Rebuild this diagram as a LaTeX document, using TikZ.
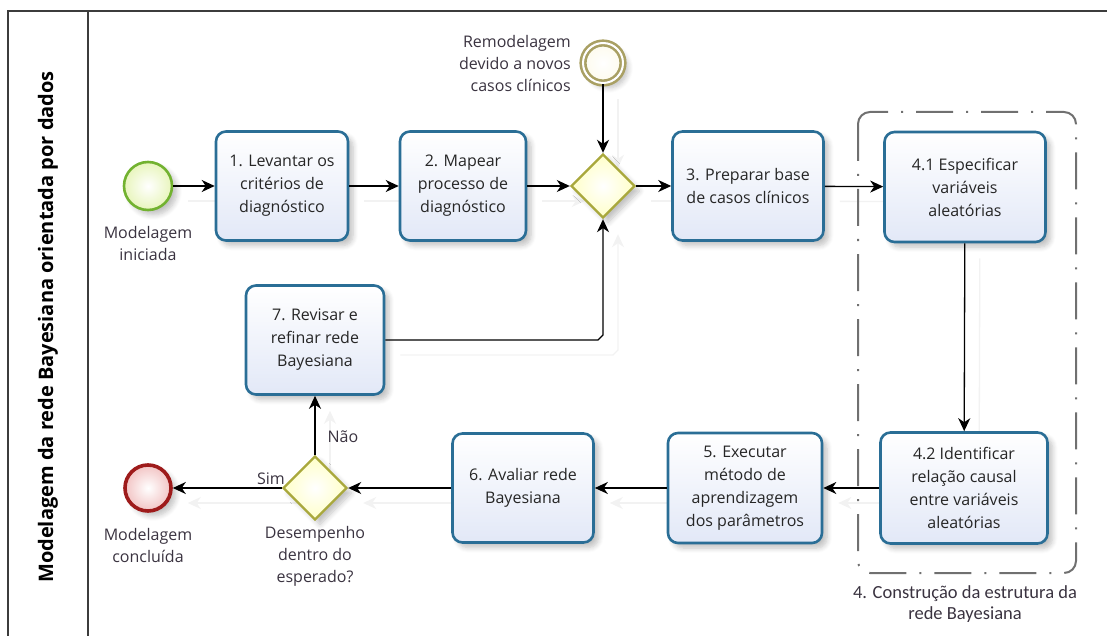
\documentclass[tikz,border=0pt]{standalone}
\usepackage{fontspec}
\setmainfont{Open Sans}
\newfontfamily\grpfont{Carlito}
\usetikzlibrary{shapes.geometric,arrows.meta,shadows.blur,calc}

\definecolor{taskline}{HTML}{2A6E96}
\definecolor{taskfill}{HTML}{E2E8F7}
\definecolor{gwline}{HTML}{A9A83C}
\definecolor{gwfill}{HTML}{FFFFC8}
\definecolor{startline}{HTML}{72B230}
\definecolor{startfill}{HTML}{E8F5BC}
\definecolor{midline}{HTML}{A9A063}
\definecolor{midfill}{HTML}{FDFBEC}
\definecolor{endline}{HTML}{9E1B1B}
\definecolor{endfill}{HTML}{F2C4C4}
\definecolor{txt}{HTML}{262626}
\definecolor{lbl}{HTML}{3A3340}
\definecolor{framecol}{HTML}{3C3C3C}
\definecolor{grpcol}{HTML}{707070}

\pgfdeclarelayer{background}
\pgfsetlayers{background,main}

\tikzset{
  softshadow/.style={blur shadow={shadow xshift=5pt, shadow yshift=-5pt,
      shadow blur steps=6, shadow blur radius=5pt, shadow opacity=24}},
  task/.style={rectangle, rounded corners=10pt, draw=taskline, line width=2.6pt,
      top color=white, bottom color=taskfill, align=center, inner sep=0pt,
      font=\fontsize{16}{23}\selectfont, text=txt, softshadow},
  gateway/.style={diamond, aspect=1, draw=gwline, line width=2.4pt,
      inner color=white, outer color=gwfill, minimum width=64pt,
      minimum height=64pt, inner sep=0pt, softshadow},
  startev/.style={circle, draw=startline, line width=2.6pt, inner color=white,
      outer color=startfill, minimum size=48pt, inner sep=0pt, softshadow},
  midev/.style={circle, draw=midline, line width=2.6pt, double=white,
      double distance=2pt, inner color=white, outer color=midfill,
      minimum size=40pt, inner sep=0pt, softshadow},
  endev/.style={circle, draw=endline, line width=3.6pt, inner color=white,
      outer color=endfill, minimum size=46pt, inner sep=0pt, softshadow},
  evlabel/.style={align=center, font=\fontsize{16}{22}\selectfont, text=lbl, inner sep=0pt},
  flow/.style={draw=black, line width=1.3pt,
      -{Stealth[length=13pt, width=12pt, inset=4pt]}},
  ghost/.style={draw=black!5, line width=1.3pt,
      -{Stealth[length=13pt, width=12pt, inset=4pt]},
      transform canvas={xshift=15pt, yshift=-15pt}},
  groupbox/.style={draw=grpcol, line width=2pt, rounded corners=12pt,
      dash pattern=on 37pt off 13pt on 2pt off 13pt},
  lanebox/.style={draw=framecol, line width=2pt}
}

\begin{document}
\begin{tikzpicture}[x=1pt, y=-1pt]
  \useasboundingbox (0,0) rectangle (1107,636);

  % pool frame and lane header
  \draw[lanebox] (8,640) -- (8,11) -- (1110,11);
  \draw[lanebox] (88,11) -- (88,640);
  \node[rotate=90, font=\bfseries\fontsize{20}{22}\selectfont, text=black] (lane)
    at (48,327) {Modelagem da rede Bayesiana orientada por dados};

  % group 4
  \draw[groupbox] (858,112) rectangle (1076,573);
  \node[align=center, font=\grpfont\fontsize{18.5}{21}\selectfont, text=lbl] (grplabel)
    at (965,604) {4. Construção da estrutura da\\rede Bayesiana};

  % events
  \node[startev] (start) at (148,186) {};
  \node[evlabel] (startlbl) at (148,243) {Modelagem\\iniciada};
  \node[midev] (remod) at (603,63) {};
  \node[evlabel, anchor=east, align=right] (remodlbl) at (571,64)
    {Remodelagem\\devido a novos\\casos clínicos};
  \node[endev] (finish) at (148,488) {};
  \node[evlabel] (finishlbl) at (148,545) {Modelagem\\concluída};

  % tasks
  \node[task, minimum width=132pt, minimum height=109pt] (t1) at (282,186)
    {1. Levantar os\\critérios de\\diagnóstico};
  \node[task, minimum width=126pt, minimum height=109pt] (t2) at (463,186)
    {2. Mapear\\processo de\\diagnóstico};
  \node[task, minimum width=151pt, minimum height=109pt] (t3) at (748,186)
    {3. Preparar base\\de casos clínicos};
  \node[task, minimum width=161pt, minimum height=110pt] (t41) at (965,187)
    {4.1 Especificar\\variáveis\\aleatórias};
  \node[task, minimum width=167pt, minimum height=111pt] (t42) at (964,488)
    {4.2 Identificar\\relação causal\\entre variáveis\\aleatórias};
  \node[task, minimum width=154pt, minimum height=110pt] (t5) at (745,488)
    {5. Executar\\método de\\aprendizagem\\dos parâmetros};
  \node[task, minimum width=141pt, minimum height=109pt] (t6) at (523,488)
    {6. Avaliar rede\\Bayesiana};
  \node[task, minimum width=138pt, minimum height=109pt] (t7) at (315,340)
    {7. Revisar e\\refinar rede\\Bayesiana};

  % gateways
  \node[gateway] (gw1) at (603,186) {};
  \node[gateway] (gw2) at (315,488) {};
  \node[evlabel] (gw2lbl) at (315,556) {Desempenho\\dentro do\\esperado?};

  % sequence flows
  \coordinate (c7) at ($(gw1.south |- t7.east)$);
  \draw[flow] (start) -- (t1);
  \draw[flow] (t1) -- (t2);
  \draw[flow] (t2) -- (gw1);
  \draw[flow] (remod) -- (gw1);
  \draw[flow] (gw1) -- (t3);
  \draw[flow] (t3) -- (t41);
  \draw[flow] (t41) -- (t42);
  \draw[flow] (t42) -- (t5);
  \draw[flow] (t5) -- (t6);
  \draw[flow] (t6) -- (gw2);
  \draw[flow] (gw2) -- node[pos=0.31, right=12pt, evlabel] (nao) {Não} (t7);
  \draw[flow] (gw2) -- node[pos=0.1, above=3pt, evlabel] (sim) {Sim} (finish);
  \draw[flow] (t7.east) -- ($(c7)+(-5,0)$) -- ($(c7)+(0,-5)$) -- (gw1.south);

  % faint connector shadows
  \begin{pgfonlayer}{background}
    \draw[ghost] (start) -- (t1);
    \draw[ghost] (t1) -- (t2);
    \draw[ghost] (t2) -- (gw1);
    \draw[ghost] (remod) -- (gw1);
    \draw[ghost] (gw1) -- (t3);
    \draw[ghost] (t3) -- (t41);
    \draw[ghost] (t41) -- (t42);
    \draw[ghost] (t42) -- (t5);
    \draw[ghost] (t5) -- (t6);
    \draw[ghost] (t6) -- (gw2);
    \draw[ghost] (gw2) -- (t7);
    \draw[ghost] (gw2) -- (finish);
    \draw[ghost] (t7.east) -- ($(c7)+(-5,0)$) -- ($(c7)+(0,-5)$) -- (gw1.south);
  \end{pgfonlayer}
\end{tikzpicture}
\end{document}
